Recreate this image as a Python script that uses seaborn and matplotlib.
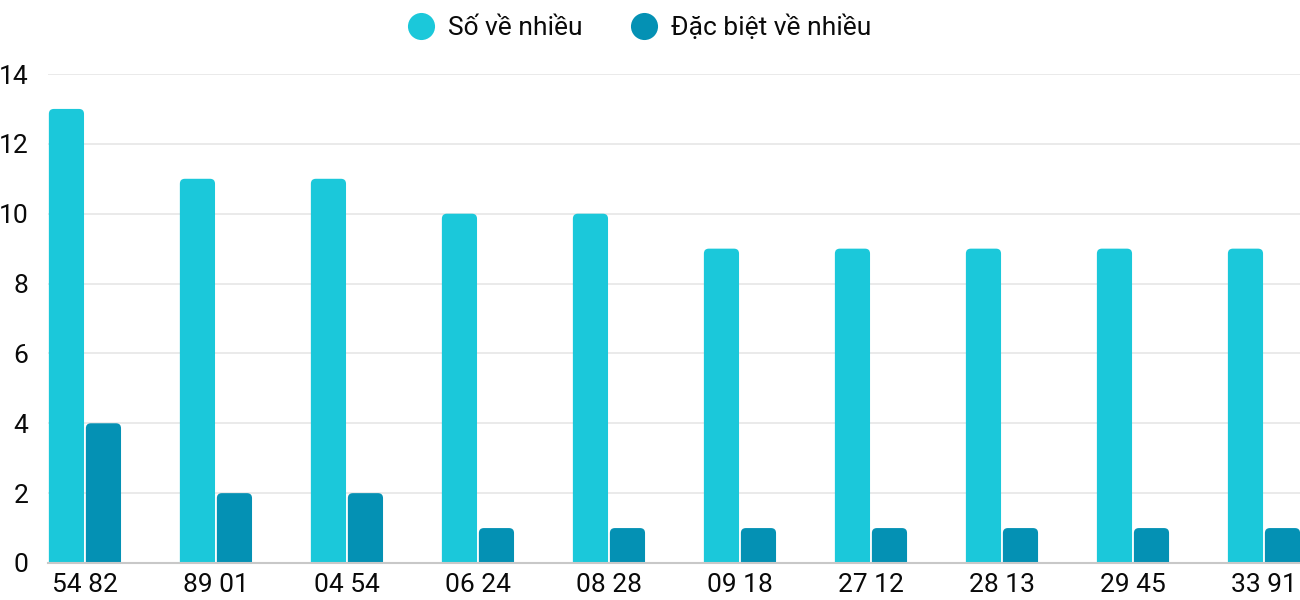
import matplotlib
matplotlib.use("Agg")
import matplotlib.pyplot as plt
import seaborn as sns
import pandas as pd
from matplotlib.patches import FancyBboxPatch
from matplotlib.lines import Line2D

categories = ["54 82", "89 01", "04 54", "06 24", "08 28", "09 18", "27 12", "28 13", "29 45", "33 91"]
series_names = ["Số về nhiều", "Đặc biệt về nhiều"]
so_ve_nhieu = [13, 11, 11, 10, 10, 9, 9, 9, 9, 9]
dac_biet = [4, 2, 2, 1, 1, 1, 1, 1, 1, 1]
y_ticks = [0, 2, 4, 6, 8, 10, 12, 14]
colors = ["#1bc8da", "#0491b4"]

df = pd.DataFrame({
    "cat": categories * 2,
    "series": [series_names[0]] * len(categories) + [series_names[1]] * len(categories),
    "value": so_ve_nhieu + dac_biet,
})

sns.set_theme(style="white")
plt.rcParams["font.family"] = ["Roboto", "DejaVu Sans"]

fig = plt.figure(figsize=(13, 6), dpi=100)
ax = fig.add_axes([48 / 1300, 1 - 563 / 600, 1 - 48 / 1300, (563 - 74) / 600])

sns.barplot(data=df, x="cat", y="value", hue="series", order=categories,
            hue_order=series_names, palette=colors, width=0.565, gap=0.05,
            saturation=1, ax=ax, legend=False, linewidth=0)

ax.set_xlim(-0.282, 9.275)
ax.set_ylim(0, 14)

# rounded tops
fig.canvas.draw()
bbox = ax.get_window_extent()
px_per_x = bbox.width / (ax.get_xlim()[1] - ax.get_xlim()[0])
px_per_y = bbox.height / (ax.get_ylim()[1] - ax.get_ylim()[0])
aspect = px_per_x / px_per_y
r = 5 / px_per_x
for p in list(ax.patches):
    x, y = p.get_x(), p.get_y()
    w, h = p.get_width(), p.get_height()
    fc = p.get_facecolor()
    p.remove()
    ext = 10 / px_per_y
    fb = FancyBboxPatch((x, y - ext), w, h + ext,
                        boxstyle=f"round,pad=0,rounding_size={r}",
                        mutation_aspect=aspect, facecolor=fc, edgecolor="none",
                        zorder=2, clip_on=True)
    ax.add_patch(fb)

ax.set_yticks(y_ticks)
ax.yaxis.grid(True, color="#e6e6e6", linewidth=1.2)
ax.set_axisbelow(True)
for s in ["top", "right", "left"]:
    ax.spines[s].set_visible(False)
ax.spines["bottom"].set_color("#c8c8c8")
ax.spines["bottom"].set_linewidth(1.5)
ax.spines["bottom"].set_zorder(3)
ax.tick_params(axis="y", length=0, pad=14, labelsize=19, labelcolor="#0a0a0a")
ax.tick_params(axis="x", length=0, pad=7, labelsize=19, labelcolor="#0a0a0a")
ax.set_xlabel("")
ax.set_ylabel("")

handles = [Line2D([0], [0], marker="o", linestyle="", markersize=19.5,
                  markerfacecolor=c, markeredgecolor="none") for c in colors]
fig.legend(handles, series_names, loc="center", bbox_to_anchor=(0.492, 1 - 27 / 600),
           ncol=2, frameon=False, fontsize=19, handlelength=1.05,
           handletextpad=0.5, columnspacing=1.8, labelcolor="#0a0a0a")

fig.savefig("out.png", dpi=100)
